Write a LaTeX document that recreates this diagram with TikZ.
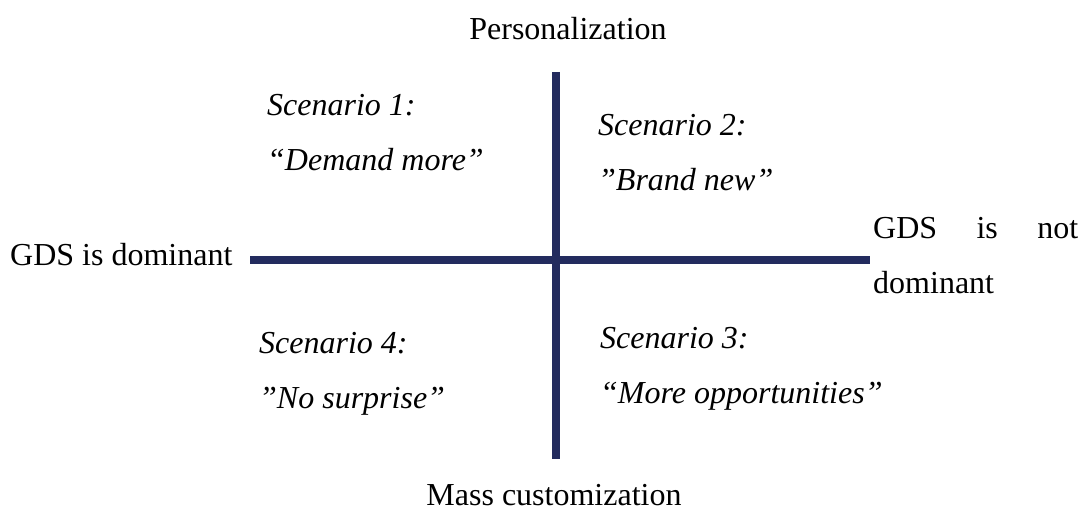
\documentclass[tikz,border=0pt]{standalone}
\usepackage{fontspec}
\setmainfont{Liberation Serif}
\definecolor{axisblue}{RGB}{35,43,94}
\tikzset{
  axis text/.style={font=\fontsize{32}{55}\selectfont, inner sep=0pt, anchor=base west},
  scenario/.style={axis text, font=\fontsize{32}{55}\selectfont\itshape, align=left},
  axisline/.style={draw=axisblue, line width=7.5pt},
}
\begin{document}
\begin{tikzpicture}[x=1pt, y=-1pt]
      \useasboundingbox (0,0) rectangle (1087,511);
      % axes
      \coordinate (top) at (556,72);
      \coordinate (bottom) at (556,459);
      \coordinate (left) at (250,260);
      \coordinate (right) at (870,260);
      \draw[axisline] (left) -- (right);
      \draw[axisline] (top) -- (bottom);
      % axis ends
      \node[axis text, anchor=base] (pers) at (568,40) {Personalization};
      \node[axis text, anchor=base] (mass) at (554,505) {Mass customization};
      \node[axis text] (dom) at (10,265) {GDS is dominant};
      \node[axis text, text width=205pt, align=justify] (notdom) at (873,238) {GDS is not dominant};
      % quadrants (placed at the baseline of the second line)
      \node[scenario] (s1) at (267,170) {Scenario 1:\\“Demand more”};
      \node[scenario] (s2) at (598,190) {Scenario 2:\\”Brand new”};
      \node[scenario] (s3) at (600,403) {Scenario 3:\\“More opportunities”};
      \node[scenario] (s4) at (259,408) {Scenario 4:\\”No surprise”};
    \end{tikzpicture}
\end{document}
